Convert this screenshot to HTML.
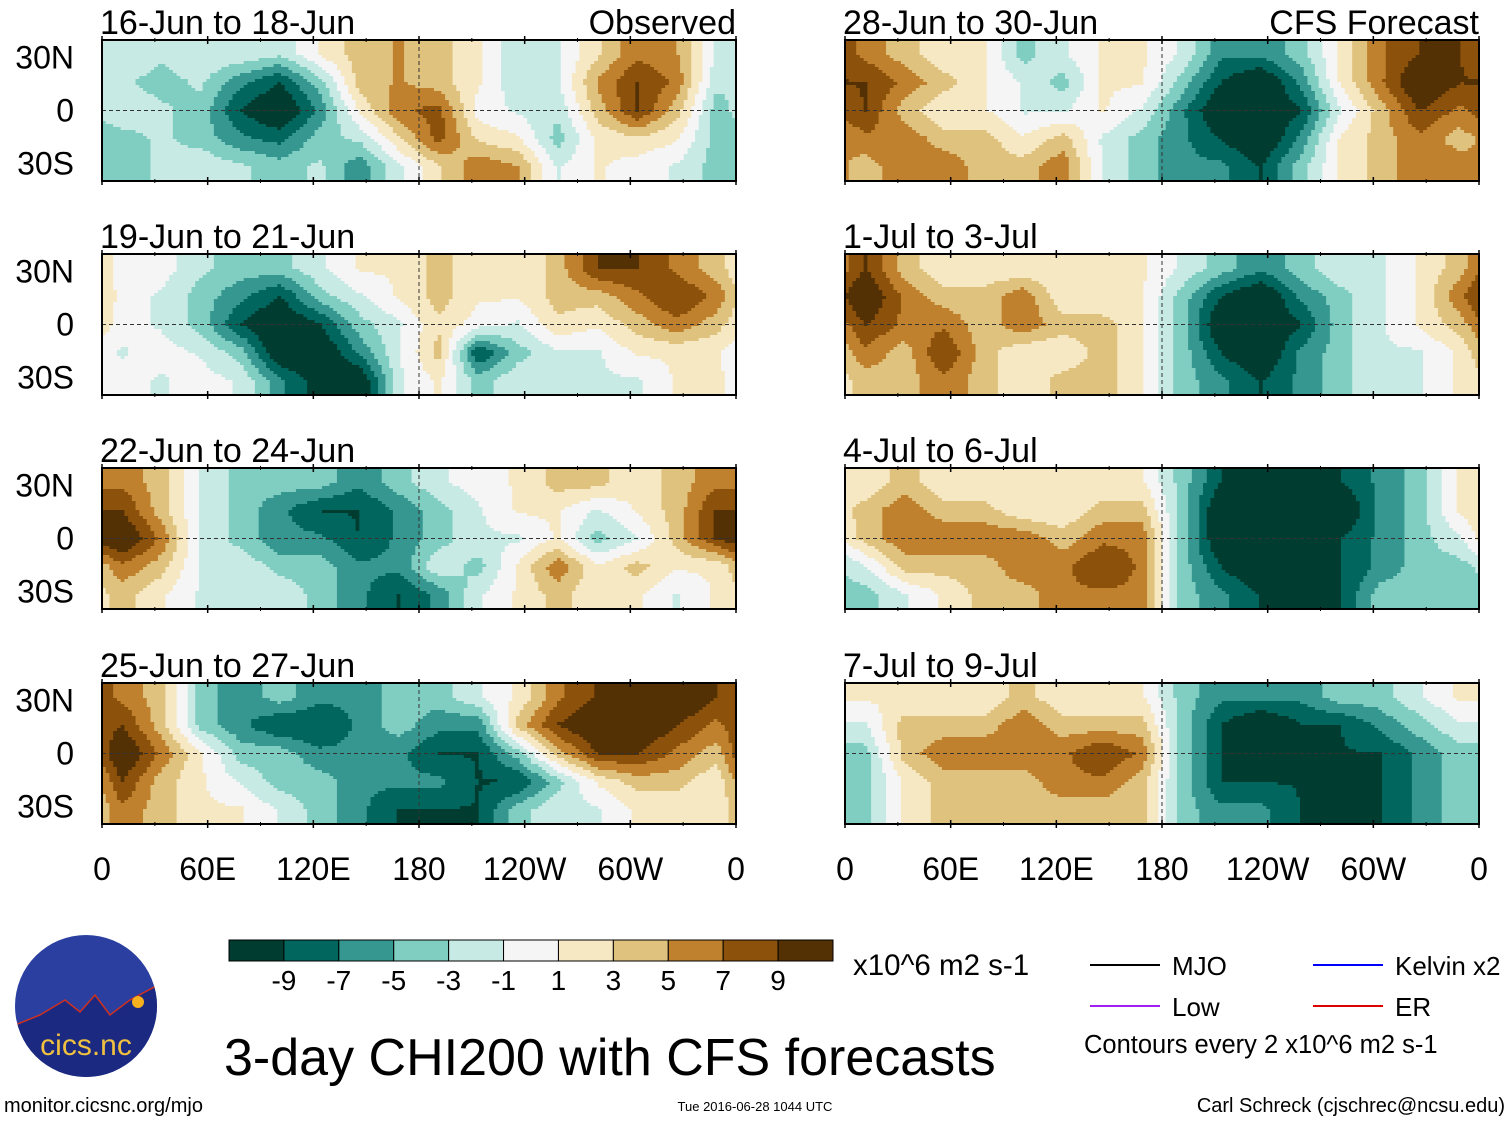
<!DOCTYPE html>
<html><head><meta charset="utf-8"><style>
body{margin:0;background:#fff;}
svg{display:block;font-family:"Liberation Sans",sans-serif;}
</style></head><body>
<svg id="c" width="1510" height="1121" viewBox="0 0 1510 1121">
<defs><clipPath id="logoclip"><circle cx="86" cy="1006" r="71"/></clipPath></defs>
</svg>
<script>
const colors=["#003c30","#01665e","#35978f","#80cdc1","#c7eae5","#f5f5f5","#f6e8c3","#dfc27d","#bf812d","#8c510a","#543005"];
const barLabels=["-9","-7","-5","-3","-1","1","3","5","7","9"];
const xTickLabels=["0","60E","120E","180","120W","60W","0"];
const yTickLabels=["30N","0","30S"];
const panelTitles=["16-Jun to 18-Jun","19-Jun to 21-Jun","22-Jun to 24-Jun","25-Jun to 27-Jun","28-Jun to 30-Jun","1-Jul to 3-Jul","4-Jul to 6-Jul","7-Jul to 9-Jul"];
const p1=[[-1,-2,-1,-1,-2,1,3,4,3,1,-2,-1,2,5,4,-1],[-2,-3,-2,-5,-7,-3,3,4,3,1,-2,-1,4,7,5,-2],[-1,-2,-3,-7,-9,-5,1,5,6,0,-1,-2,3,7,3,-3],[-3,-2,-3,-5,-6,-3,-2,2,6,2,1,-3,1,2,1,-3],[-3,-2,-1,-2,-3,-2,-5,-1,2,5,4,-1,1,0,-1,-3]];
const p2=[[0,0,-2,-3,-3,-1,1,1,3,1,1,3,7,7,5,3],[0,-1,-3,-5,-7,-3,-1,1,3,1,1,3,3,5,7,5],[0,-1,-3,-7,-9,-7,-3,-1,2,0,-1,2,1,3,5,3],[-1,0,-1,-3,-9,-9,-5,-1,3,-7,-3,-1,-1,1,1,1],[0,-1,0,-1,-5,-8,-9,-1,1,-3,-1,-2,-1,-1,1,1]];
const p3=[[5,3,-1,-3,-3,-3,-5,-3,-1,0,1,3,3,1,3,5],[7,3,-1,-3,-5,-7,-7,-5,-3,-1,1,1,-1,1,3,7],[9,5,-1,-3,-5,-5,-7,-5,-3,-1,-1,1,-3,-1,3,7],[5,3,-1,-1,-3,-3,-5,-5,-1,-3,1,5,1,3,1,1],[3,1,-1,-1,-1,-3,-5,-7,-5,-1,1,3,1,1,-1,1]];
const p4=[[5,3,-3,-5,-3,-5,-5,-3,-3,-1,1,5,7,9,9,7],[7,3,-3,-5,-7,-7,-5,-3,-5,-5,3,7,9,9,7,5],[9,5,1,-3,-3,-5,-5,-5,-7,-7,-3,3,7,7,5,3],[7,3,1,-1,-3,-3,-5,-5,-5,-7,-7,-3,1,3,3,1],[5,3,1,1,-1,-3,-5,-7,-7,-7,-3,-1,-1,1,1,1]];
const p5=[[5,3,1,1,-3,-1,1,1,-1,-5,-5,-3,1,5,7,7],[7,5,3,1,-1,-3,1,1,-3,-7,-9,-5,1,5,9,7],[7,3,1,1,-1,-1,1,-1,-5,-9,-9,-7,-1,3,7,5],[5,5,3,3,1,3,-1,-3,-5,-7,-9,-5,1,3,5,3],[3,5,5,3,3,5,-1,-3,-5,-5,-7,-3,1,3,5,5]];
const p6=[[7,3,1,1,1,1,1,1,-1,-3,-5,-3,-1,-1,1,3],[9,5,3,3,5,1,1,1,-3,-7,-9,-5,-3,-1,1,5],[7,5,5,3,5,3,3,1,-3,-9,-9,-7,-3,-1,1,3],[5,3,7,3,1,1,3,1,-3,-7,-9,-5,-3,-1,-1,1],[3,3,5,3,1,3,3,1,-3,-5,-7,-5,-3,-1,-1,1]];
const p7=[[1,3,1,1,1,1,1,1,-3,-7,-9,-9,-7,-5,-3,1],[3,5,3,3,1,1,3,3,-3,-9,-9,-9,-9,-5,-3,1],[3,5,5,5,5,3,5,5,-3,-9,-9,-9,-7,-5,-3,-1],[-1,3,3,3,5,5,7,5,-3,-7,-9,-7,-7,-5,-3,-3],[-3,-1,1,3,3,5,5,5,-3,-5,-7,-7,-7,-3,-3,-3]];
const p8=[[1,1,1,1,3,1,1,1,-3,-5,-5,-5,-3,-3,-1,1],[-1,3,3,3,5,3,3,3,-3,-7,-9,-7,-7,-5,-3,-1],[-3,3,5,5,5,5,7,5,-3,-7,-7,-7,-7,-7,-5,-3],[-3,1,3,3,3,5,5,3,-3,-7,-7,-7,-7,-7,-5,-3],[-3,1,3,3,3,3,3,3,-3,-5,-5,-7,-7,-7,-5,-3]];
const fields=[p1,p2,p3,p4,p5,p6,p7,p8];

const NS="http://www.w3.org/2000/svg";
const svg=document.getElementById('c');
function mk(tag,attrs,parent){const e=document.createElementNS(NS,tag);for(const k in attrs)e.setAttribute(k,attrs[k]);(parent||svg).appendChild(e);return e;}
function txt(s,x,y,size,anchor,parent){const t=mk('text',{x:x,y:y,'font-size':size,'text-anchor':anchor||'start',fill:'#000'},parent);t.textContent=s;return t;}
function colorIdx(v){return Math.max(0,Math.min(10,Math.floor((v*1.3+11)/2)));}

const W=634,H=141;
const lefts=[102,845], tops=[40,254,468,683];
const xScale=(lon,x0)=>x0+lon/360*W;
const yScale=(lat,y0)=>y0+(40-lat)/80*H;

fields.forEach((f,pi)=>{
  const x0=lefts[Math.floor(pi/4)], y0=tops[pi%4];
  const g=mk('g',{});
  
  
  const nr=f.length,nc=f[0].length,FX=170,FY=47;
  const cw=W/FX,ch=H/FY;
  for(let j=0;j<FY;j++){
    const fy=((j+0.5)/FY)*nr-0.5;
    const r0=Math.max(0,Math.min(nr-1,Math.floor(fy))),r1=Math.min(nr-1,r0+1);
    const ty=Math.max(0,Math.min(1,fy-r0));
    let runStart=0,runC=-1;
    const flush=(end)=>{
      const rc=mk('rect',{x:(x0+runStart*cw).toFixed(2),y:(y0+j*ch).toFixed(2),width:((end-runStart)*cw+0.6).toFixed(2),height:(ch+0.6).toFixed(2),fill:colors[runC]},g);
      
      
    };
    for(let i=0;i<FX;i++){
      let fx=((i+0.5)/FX)*nc-0.5;
      let c0=Math.floor(fx),tx=fx-c0;
      const ca=(c0+nc)%nc,cb=(c0+1)%nc;
      const v=(1-ty)*((1-tx)*f[r0][ca]+tx*f[r0][cb])+ty*((1-tx)*f[r1][ca]+tx*f[r1][cb]);
      const ci=colorIdx(v);
      if(ci!==runC){if(runC>=0)flush(i);runStart=i;runC=ci;}
    }
    flush(FX);
  }
  const eq=mk('line',{x1:x0,x2:x0+W,y1:yScale(0,y0),y2:yScale(0,y0),stroke:'#333','stroke-width':1,'stroke-dasharray':'4,3'});
  
  const dl=mk('line',{x1:xScale(180,x0),x2:xScale(180,x0),y1:y0,y2:y0+H,stroke:'#333','stroke-width':1,'stroke-dasharray':'4,3'});
  
  const fr=mk('rect',{x:x0,y:y0,width:W,height:H,fill:'none',stroke:'#000','stroke-width':2});
  
  for(let lon=0;lon<=360;lon+=60){
    mk('line',{x1:xScale(lon,x0),x2:xScale(lon,x0),y1:y0-4,y2:y0+4,stroke:'#000','stroke-width':1.5});
    mk('line',{x1:xScale(lon,x0),x2:xScale(lon,x0),y1:y0+H-4,y2:y0+H+4,stroke:'#000','stroke-width':1.5});
  }
  for(let lon=0;lon<=360;lon+=30){
    mk('line',{x1:xScale(lon,x0),x2:xScale(lon,x0),y1:y0-2,y2:y0+2,stroke:'#000'});
    mk('line',{x1:xScale(lon,x0),x2:xScale(lon,x0),y1:y0+H-2,y2:y0+H+2,stroke:'#000'});
  }
  const t=txt(panelTitles[pi],x0-2,y0-6,34);
  
  if(pi%4===0){const s=txt(pi<4?'Observed':'CFS Forecast',x0+W,y0-6,34,'end');}
  if(pi<4){[30,0,-30].forEach((lat,k)=>{const l=txt(yTickLabels[k],74,yScale(lat,y0)+11,32,'end');});}
  if(pi%4===3){xTickLabels.forEach((s,k)=>{const l=txt(s,xScale(k*60,x0),880,32,'middle');});}
});

const cb=mk('g',{});
const bx=229,bw=604/11;
colors.forEach((c,i)=>{const r=mk('rect',{x:bx+i*bw,y:940,width:bw,height:21,fill:c,stroke:'#000','stroke-width':1},cb);});
barLabels.forEach((s,i)=>{const l=txt(s,bx+(i+1)*bw,990,28,'middle',cb);});
</script>
<script>
(function(){
const NS="http://www.w3.org/2000/svg";const svg=document.getElementById('c');
function mk(tag,a){const e=document.createElementNS(NS,tag);for(const k in a)e.setAttribute(k,a[k]);svg.appendChild(e);return e;}
function t(s,x,y,size,anchor,name){const e=mk('text',{x:x,y:y,'font-size':size,'text-anchor':anchor||'start'});e.textContent=s;return e;}
t('x10^6 m2 s-1',853,975,29.5,'start','units-label');
t('3-day CHI200 with CFS forecasts',224,1075,52,'start','main-title');
t('Contours every 2 x10^6 m2 s-1',1084,1053,25.5,'start','contour-note');
[['MJO','#000',1090,965],['Low','#a020f0',1090,1006],['Kelvin x2','#0000ff',1313,965],['ER','#dd0000',1313,1006]].forEach(d=>{
  const l=mk('line',{x1:d[2],x2:d[2]+70,y1:d[3],y2:d[3],stroke:d[1],'stroke-width':2});
  
  t(d[0],d[2]+82,d[3]+10,26,'start','legend-label-'+d[0].split(' ')[0].toLowerCase());
});
t('monitor.cicsnc.org/mjo',4,1112,20,'start','source-url');
t('Tue 2016-06-28 1044 UTC',755,1111,13,'middle','timestamp');
t('Carl Schreck (cjschrec@ncsu.edu)',1505,1112,20,'end','author-credit');
const c=mk('circle',{cx:86,cy:1006,r:71,fill:'#2a3fa0'});
const m=mk('path',{d:'M15 1025 L40 1015 L65 1000 L80 1012 L95 995 L110 1015 L130 1000 L158 985 L160 1080 L15 1080 Z',fill:'#1b2a80','clip-path':'url(#logoclip)',stroke:'#d03020','stroke-width':1.5});
const sun=mk('circle',{cx:138,cy:1002,r:6,fill:'#f5b020'});
const lt=t('cics.nc',86,1055,30,'middle','logo-text');lt.setAttribute('fill','#f0c040');
})();
</script>
</body></html>
